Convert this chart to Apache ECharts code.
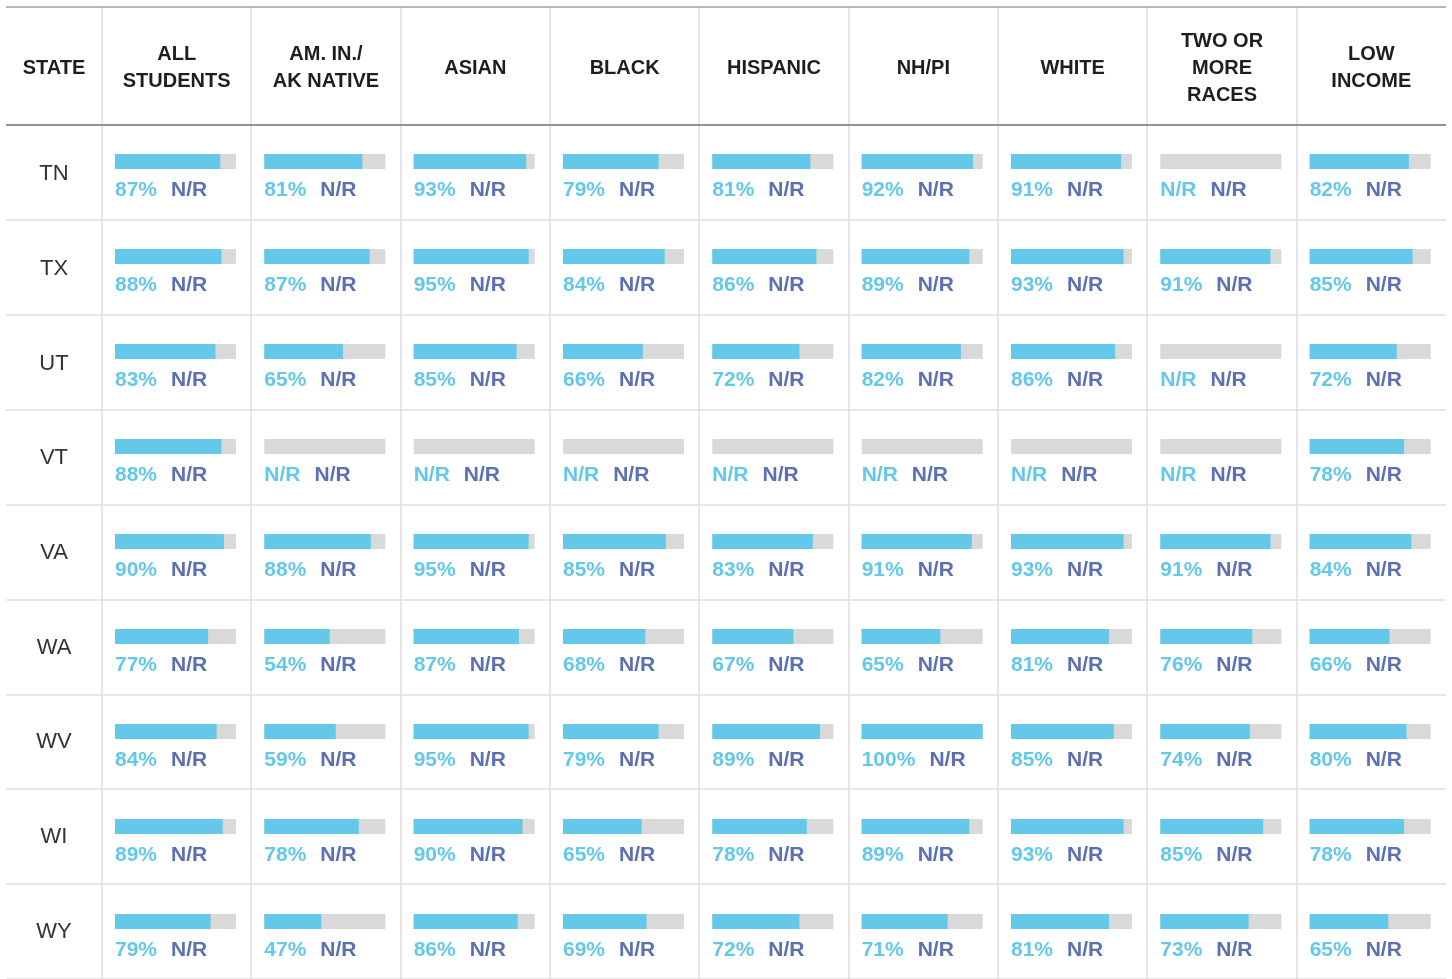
<!DOCTYPE html>
<html>
<head>
<meta charset="utf-8">
<script src="https://cdn.jsdelivr.net/npm/echarts@6/dist/echarts.min.js"></script>
<style>
  html, body { margin: 0; padding: 0; background: #fff; }
  #main { width: 1452px; height: 979px; }
</style>
</head>
<body>
<div id="main"></div>
<script>
  const states = ['TN', 'TX', 'UT', 'VT', 'VA', 'WA', 'WV', 'WI', 'WY'];
  const groupNames = ['ALL\nSTUDENTS', 'AM. IN./\nAK NATIVE', 'ASIAN', 'BLACK', 'HISPANIC', 'NH/PI', 'WHITE', 'TWO OR\nMORE\nRACES', 'LOW\nINCOME'];
  const allStudents = [87, 88, 83, 88, 90, 77, 84, 89, 79];
  const amInAkNative = [81, 87, 65, null, 88, 54, 59, 78, 47];
  const asian = [93, 95, 85, null, 95, 87, 95, 90, 86];
  const black = [79, 84, 66, null, 85, 68, 79, 65, 69];
  const hispanic = [81, 86, 72, null, 83, 67, 89, 78, 72];
  const nhpi = [92, 89, 82, null, 91, 65, 100, 89, 71];
  const white = [91, 93, 86, null, 93, 81, 85, 93, 81];
  const twoOrMore = [null, 91, null, null, 91, 76, 74, 85, 73];
  const lowIncome = [82, 85, 72, 78, 84, 66, 80, 78, 65];
  const secondLabel = 'N/R'; // second measure is not reported anywhere

  const groupValues = [allStudents, amInAkNative, asian, black, hispanic, nhpi, white, twoOrMore, lowIncome];

  // table layout
  const tLeft = 6, tRight = 1446, tTop = 7, headBottom = 125, rowH = 95;
  const firstCol = 102;
  const colW = (tRight - firstCol) / groupNames.length;
  const font = '"Liberation Sans", Arial, sans-serif';
  const blue = '#63c8e9', gray = '#d9d9d9', navy = '#5b6fb5';

  let myChart = echarts.init(document.getElementById('main'));

  let grid = [], xAxis = [], yAxis = [], series = [], graphic = [];

  // grid 0: row separators across the whole table
  grid.push({ left: tLeft, top: headBottom, width: tRight - tLeft, height: rowH * states.length });
  xAxis.push({ gridIndex: 0, type: 'value', show: false });
  yAxis.push({
    gridIndex: 0, type: 'category', data: states, inverse: true,
    axisLine: { show: false }, axisTick: { show: false }, axisLabel: { show: false },
    splitLine: { show: true, interval: 0, lineStyle: { color: '#dedede', width: 1.5 } }
  });

  // grid 1: state names (nudged down a touch)
  grid.push({ left: 54, top: headBottom + 2, width: 1, height: rowH * states.length });
  xAxis.push({ gridIndex: 1, type: 'value', show: false });
  yAxis.push({
    gridIndex: 1, type: 'category', data: states, inverse: true,
    axisLine: { show: false }, axisTick: { show: false }, splitLine: { show: false },
    axisLabel: { margin: 0, align: 'center', fontSize: 22, color: '#333', fontFamily: font }
  });

  groupValues.forEach((vals, i) => {
    const gi = i + 2;
    grid.push({ left: firstCol + i * colW + 13, top: headBottom - 11, width: 121, height: rowH * states.length });
    xAxis.push({ gridIndex: gi, type: 'value', min: 0, max: 100, show: false });
    yAxis.push({ gridIndex: gi, type: 'category', data: states, inverse: true, show: false });
    series.push({
      type: 'bar', xAxisIndex: gi, yAxisIndex: gi,
      data: states.map(() => 100),
      barWidth: 15, barGap: '-100%', silent: true,
      itemStyle: { color: gray },
      label: {
        show: true,
        position: [0, 24],
        formatter: (p) => {
          const v = vals[p.dataIndex];
          return (v == null ? '{a|N/R}' : '{a|' + v + '%}') + '{r|' + secondLabel + '}';
        },
        rich: {
          a: { color: blue, fontSize: 21, fontWeight: 'bold', fontFamily: font, lineHeight: 24 },
          r: { color: navy, fontSize: 21, fontWeight: 'bold', fontFamily: font, lineHeight: 24, padding: [0, 0, 0, 14] }
        }
      }
    });
    series.push({
      type: 'bar', xAxisIndex: gi, yAxisIndex: gi,
      data: vals,
      barWidth: 15, barGap: '-100%', silent: true,
      itemStyle: { color: blue }
    });
    // header text
    graphic.push({
      type: 'text', x: firstCol + (i + 0.5) * colW, y: (tTop + headBottom) / 2 + 2, z: 100,
      style: { text: groupNames[i], align: 'center', verticalAlign: 'middle', font: 'bold 20px ' + font, fill: '#1e1e1e', lineHeight: 27 }
    });
  });

  graphic.push({
    type: 'text', x: (tLeft + firstCol) / 2, y: (tTop + headBottom) / 2 + 2, z: 100,
    style: { text: 'STATE', align: 'center', verticalAlign: 'middle', font: 'bold 20px ' + font, fill: '#1e1e1e' }
  });

  // vertical column dividers
  for (let i = 0; i < groupNames.length; i++) {
    const x = Math.round(firstCol + i * colW);
    graphic.push({ type: 'line', z: 100, shape: { x1: x, y1: tTop, x2: x, y2: 979 }, style: { stroke: '#dedede', lineWidth: 1.5 } });
  }
  // dark rules at top and under the header
  graphic.push({ type: 'line', z: 101, shape: { x1: tLeft, y1: tTop, x2: tRight, y2: tTop }, style: { stroke: '#777', lineWidth: 1.2 } });
  graphic.push({ type: 'line', z: 101, shape: { x1: tLeft, y1: headBottom, x2: tRight, y2: headBottom }, style: { stroke: '#777', lineWidth: 1.6 } });

  let option = {
    animation: false,
    grid: grid,
    xAxis: xAxis,
    yAxis: yAxis,
    series: series,
    graphic: graphic
  };
  myChart.setOption(option);
</script>
</body>
</html>
